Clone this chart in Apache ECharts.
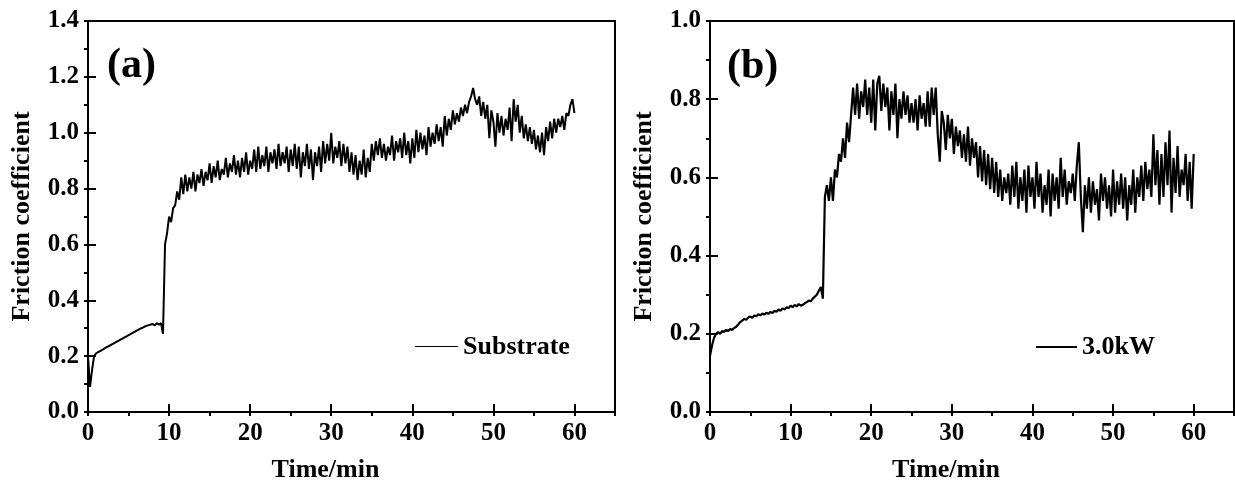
<!DOCTYPE html>
<html>
<head>
<meta charset="utf-8">
<script src="https://cdn.jsdelivr.net/npm/echarts@6/dist/echarts.min.js"></script>
<style>
html,body{margin:0;padding:0;background:#fff;}
#chart{width:1235px;height:488px;}
</style>
</head>
<body>
<div id="chart"></div>
<script>
// sampling step of the recorded traces (minutes)
const STEP = 0.25;

// Panel (a): Substrate, friction coefficient sampled every 0.25 min from 0 to 60 min
const frictionSubstrate = [
  0.20, 0.09, 0.15, 0.20,
  0.21, 0.214, 0.218, 0.222,
  0.227, 0.231, 0.235, 0.239,
  0.243, 0.247, 0.251, 0.255,
  0.259, 0.263, 0.267, 0.271,
  0.275, 0.279, 0.283, 0.287,
  0.291, 0.295, 0.299, 0.302,
  0.306, 0.309, 0.311, 0.313,
  0.315, 0.310, 0.318, 0.313,
  0.318, 0.28, 0.60, 0.64,
  0.70, 0.68, 0.73, 0.74,
  0.79, 0.76, 0.84, 0.78,
  0.85, 0.79, 0.84, 0.80,
  0.86, 0.79, 0.85, 0.82,
  0.87, 0.81, 0.86, 0.83,
  0.89, 0.82, 0.88, 0.84,
  0.90, 0.83, 0.87, 0.85,
  0.91, 0.84, 0.89, 0.86,
  0.92, 0.85, 0.90, 0.84,
  0.91, 0.86, 0.93, 0.85,
  0.90, 0.87, 0.94, 0.86,
  0.95, 0.87, 0.92, 0.88,
  0.95, 0.86, 0.93, 0.89,
  0.94, 0.87, 0.96, 0.88,
  0.93, 0.89, 0.95, 0.86,
  0.94, 0.88, 0.96, 0.87,
  0.95, 0.84, 0.93, 0.88,
  0.96, 0.87, 0.94, 0.83,
  0.93, 0.88, 0.95, 0.86,
  0.97, 0.89, 0.96, 0.90,
  1.00, 0.89, 0.95, 0.91,
  0.97, 0.88, 0.96, 0.89,
  0.95, 0.86, 0.93, 0.85,
  0.92, 0.83, 0.90, 0.85,
  0.94, 0.84, 0.91, 0.86,
  0.96, 0.90, 0.97, 0.92,
  0.98, 0.91, 0.96, 0.90,
  0.95, 0.92, 0.99, 0.90,
  0.97, 0.93, 0.98, 0.91,
  1.00, 0.92, 0.97, 0.89,
  0.98, 0.91, 1.01, 0.93,
  1.00, 0.94, 0.99, 0.92,
  1.02, 0.95, 1.00, 0.96,
  1.03, 0.97, 1.02, 0.95,
  1.06, 0.99, 1.05, 1.01,
  1.08, 1.03, 1.07, 1.04,
  1.09, 1.06, 1.10, 1.07,
  1.11, 1.13, 1.16, 1.12,
  1.10, 1.13, 1.06, 1.11,
  1.05, 1.10, 0.98, 1.08,
  1.04, 0.95, 1.07, 1.00,
  1.06, 0.99, 1.05, 1.01,
  1.09, 0.97, 1.12, 1.04,
  1.10, 1.00, 1.06, 0.98,
  1.03, 0.97, 1.02, 0.96,
  1.01, 0.94, 0.99, 0.93,
  1.00, 0.92, 1.02, 0.97,
  1.04, 0.98, 1.05, 1.00,
  1.05, 1.02, 1.06, 1.01,
  1.07, 1.06, 1.10, 1.12,
  1.07
];

// Panel (b): 3.0kW, friction coefficient sampled every 0.25 min from 0 to 60 min
const friction3kW = [
  0.144, 0.17, 0.19, 0.20,
  0.204, 0.200, 0.207, 0.205,
  0.210, 0.207, 0.212, 0.210,
  0.215, 0.218, 0.224, 0.230,
  0.234, 0.238, 0.236, 0.242,
  0.244, 0.241, 0.247, 0.245,
  0.250, 0.247, 0.252, 0.249,
  0.254, 0.251, 0.256, 0.253,
  0.259, 0.256, 0.262, 0.259,
  0.265, 0.262, 0.268, 0.266,
  0.272, 0.268, 0.274, 0.270,
  0.276, 0.272, 0.274, 0.278,
  0.281, 0.285, 0.283, 0.290,
  0.295, 0.300, 0.310, 0.320,
  0.29, 0.55, 0.58, 0.54,
  0.60, 0.54, 0.62, 0.60,
  0.66, 0.64, 0.70, 0.65,
  0.74, 0.69, 0.76, 0.83,
  0.76, 0.84, 0.75, 0.82,
  0.78, 0.85, 0.76, 0.83,
  0.74, 0.85, 0.72, 0.84,
  0.86, 0.77, 0.84, 0.78,
  0.83, 0.72, 0.82, 0.76,
  0.84, 0.70, 0.80, 0.75,
  0.82, 0.76, 0.81, 0.74,
  0.79, 0.74, 0.80, 0.72,
  0.81, 0.75, 0.79, 0.73,
  0.82, 0.73, 0.83, 0.76,
  0.83, 0.71, 0.64, 0.77,
  0.74, 0.67, 0.76, 0.70,
  0.75, 0.66, 0.73, 0.68,
  0.72, 0.65, 0.71, 0.64,
  0.73, 0.63, 0.70, 0.65,
  0.69, 0.60, 0.68, 0.59,
  0.67, 0.58, 0.66, 0.57,
  0.65, 0.56, 0.64, 0.55,
  0.62, 0.54, 0.60, 0.56,
  0.61, 0.53, 0.63, 0.55,
  0.64, 0.52, 0.60, 0.54,
  0.62, 0.51, 0.63, 0.55,
  0.60, 0.52, 0.64, 0.55,
  0.61, 0.51, 0.58, 0.53,
  0.62, 0.50, 0.61, 0.54,
  0.60, 0.52, 0.65, 0.55,
  0.62, 0.53, 0.59, 0.56,
  0.61, 0.54, 0.63, 0.69,
  0.55, 0.46, 0.58, 0.52,
  0.60, 0.51, 0.59, 0.53,
  0.57, 0.49, 0.61, 0.54,
  0.60, 0.52, 0.58, 0.50,
  0.62, 0.51, 0.59, 0.53,
  0.61, 0.52, 0.60, 0.49,
  0.58, 0.53, 0.62, 0.51,
  0.60, 0.55, 0.63, 0.54,
  0.64, 0.57, 0.62, 0.55,
  0.71, 0.58, 0.67, 0.53,
  0.66, 0.55, 0.69, 0.58,
  0.72, 0.51, 0.65, 0.56,
  0.68, 0.55, 0.62, 0.58,
  0.66, 0.54, 0.64, 0.52,
  0.66
];

const seriesNames = ['Substrate', '3.0kW'];
const panelLabels = ['(a)', '(b)'];
const xAxisTitle = 'Time/min';
const yAxisTitle = 'Friction coefficient';
const xRange = [0, 65];
const yMaxA = 1.4;
const yMaxB = 1.0;

const FONT = '"Liberation Serif", "Times New Roman", serif';
const toPairs = arr => arr.map((v, i) => [i * STEP, v]);

const chart = echarts.init(document.getElementById('chart'), null, {renderer: 'canvas'});

const grids = [
  {left: 88, top: 21, width: 527, height: 392, show: true, borderColor: '#000', borderWidth: 2, backgroundColor: 'transparent'},
  {left: 710, top: 21, width: 524, height: 392, show: true, borderColor: '#000', borderWidth: 2, backgroundColor: 'transparent'}
];

function majorX(gi) {
  return {
    type: 'value', gridIndex: gi, min: xRange[0], max: xRange[1], interval: 10,
    name: xAxisTitle, nameLocation: 'middle', nameGap: 45,
    nameTextStyle: {fontFamily: FONT, fontWeight: 'bold', fontSize: 26, color: '#000', padding: [0, 52, 0, 0]},
    axisLine: {show: true, lineStyle: {color: '#000', width: 2}},
    axisTick: {show: true, inside: true, length: 8, lineStyle: {color: '#000', width: 2}},
    axisLabel: {show: true, margin: 9, fontFamily: FONT, fontWeight: 'bold', fontSize: 25, color: '#000', showMaxLabel: false,
      formatter: v => (v > 60 ? '' : String(v))},
    splitLine: {show: false}
  };
}
function minorX(gi) {
  return {
    type: 'value', gridIndex: gi, min: xRange[0], max: xRange[1], interval: 5,
    axisLine: {show: false},
    axisTick: {show: true, inside: true, length: 4, lineStyle: {color: '#000', width: 2}},
    axisLabel: {show: false}, splitLine: {show: false}
  };
}
function majorY(gi, max) {
  return {
    type: 'value', gridIndex: gi, min: 0, max: max, interval: 0.2,
    name: yAxisTitle, nameLocation: 'middle', nameGap: 53,
    nameTextStyle: {fontFamily: FONT, fontWeight: 'bold', fontSize: 26, color: '#000'},
    axisLine: {show: true, lineStyle: {color: '#000', width: 2}},
    axisTick: {show: true, inside: true, length: 8, lineStyle: {color: '#000', width: 2}},
    axisLabel: {show: true, margin: 9, fontFamily: FONT, fontWeight: 'bold', fontSize: 25, color: '#000',
      formatter: v => v.toFixed(1)},
    splitLine: {show: false}
  };
}
function minorY(gi, max) {
  return {
    type: 'value', gridIndex: gi, min: 0, max: max, interval: 0.1,
    axisLine: {show: false},
    axisTick: {show: true, inside: true, length: 4, lineStyle: {color: '#000', width: 2}},
    axisLabel: {show: false}, splitLine: {show: false}
  };
}

function legendGraphic(x1, x2, y, lw, label) {
  return {
    type: 'group', silent: true,
    children: [
      {type: 'line', shape: {x1: x1, y1: y, x2: x2, y2: y}, style: {stroke: '#000', lineWidth: lw}},
      {type: 'text', x: x2 + 5, y: 347, style: {text: label, font: 'bold 26px ' + FONT, fill: '#000', verticalAlign: 'middle', align: 'left'}}
    ]
  };
}

const option = {
  backgroundColor: '#fff',
  animation: false,
  grid: grids,
  xAxis: [majorX(0), minorX(0), majorX(1), minorX(1)],
  yAxis: [majorY(0, yMaxA), minorY(0, yMaxA), majorY(1, yMaxB), minorY(1, yMaxB)],
  graphic: [
    {type: 'text', left: 107, top: 45, style: {text: panelLabels[0], font: 'bold 42px ' + FONT, fill: '#000'}},
    {type: 'text', left: 727, top: 46, style: {text: panelLabels[1], font: 'bold 42px ' + FONT, fill: '#000'}},
    legendGraphic(415, 458, 346.5, 1, seriesNames[0]),
    legendGraphic(1036, 1077, 347, 2.2, seriesNames[1])
  ],
  series: [
    {
      name: seriesNames[0], type: 'line', xAxisIndex: 0, yAxisIndex: 0,
      data: toPairs(frictionSubstrate), showSymbol: false, symbol: 'none',
      lineStyle: {color: '#000', width: 2}, itemStyle: {color: '#000'}
    },
    {
      name: seriesNames[1], type: 'line', xAxisIndex: 2, yAxisIndex: 2,
      data: toPairs(friction3kW), showSymbol: false, symbol: 'none',
      lineStyle: {color: '#000', width: 2.2}, itemStyle: {color: '#000'}
    }
  ]
};
chart.setOption(option);
</script>
</body>
</html>
